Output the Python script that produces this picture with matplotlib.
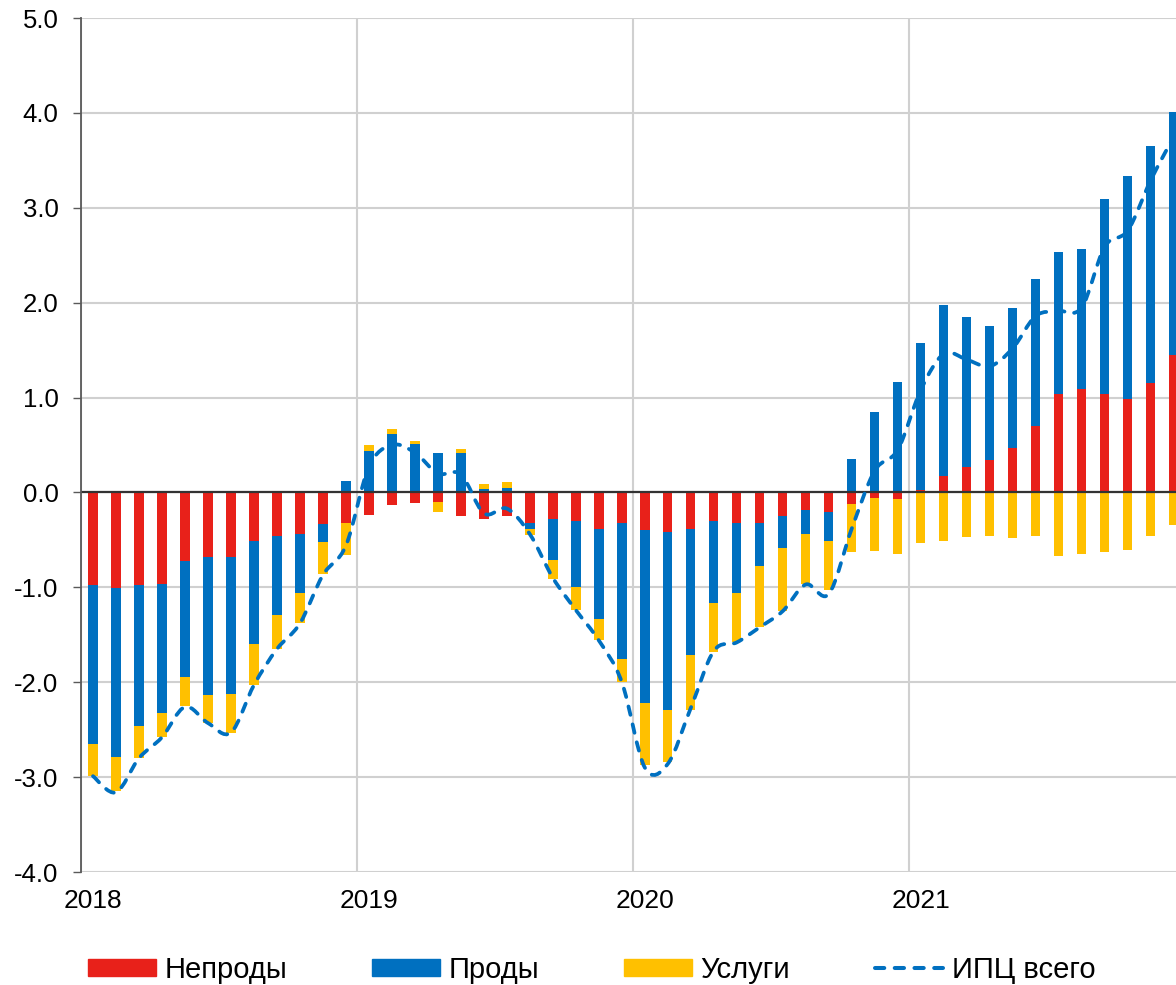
import numpy as np
import matplotlib
matplotlib.use("Agg")
import matplotlib.pyplot as plt
from matplotlib.path import Path
from matplotlib.patches import PathPatch, Patch
from matplotlib.lines import Line2D
from matplotlib.ticker import FixedLocator, FixedFormatter

plt.rcParams['font.family'] = ['Liberation Sans', 'DejaVu Sans']

# ---------------- data ----------------
year_labels = ["2018", "2019", "2020", "2021"]
series_names = ["Непроды", "Проды", "Услуги"]
line_name = "ИПЦ всего"

nonfood = [-0.98, -1.01, -0.975, -0.96, -0.72, -0.68, -0.68, -0.51, -0.46, -0.44, -0.33, -0.32,
           -0.235, -0.13, -0.11, -0.105, -0.25, -0.28, -0.25, -0.32, -0.28, -0.305, -0.38, -0.32,
           -0.40, -0.42, -0.39, -0.30, -0.32, -0.32, -0.25, -0.19, -0.21, -0.12, -0.056, -0.074,
           0.025, 0.17, 0.27, 0.34, 0.47, 0.695, 1.035, 1.085, 1.04, 0.98, 1.15, 1.45]
food = [-1.67, -1.78, -1.49, -1.36, -1.23, -1.45, -1.44, -1.09, -0.83, -0.62, -0.19, 0.12,
        0.44, 0.62, 0.51, 0.42, 0.42, 0.035, 0.05, -0.07, -0.43, -0.695, -0.95, -1.44,
        -1.82, -1.87, -1.32, -0.87, -0.74, -0.46, -0.34, -0.25, -0.30, 0.35, 0.845, 1.16,
        1.555, 1.81, 1.58, 1.415, 1.47, 1.555, 1.495, 1.485, 2.05, 2.35, 2.50, 2.56]
services = [-0.34, -0.36, -0.33, -0.26, -0.30, -0.30, -0.41, -0.43, -0.36, -0.32, -0.34, -0.34,
            0.06, 0.05, 0.03, -0.10, 0.04, 0.055, 0.06, -0.055, -0.20, -0.24, -0.23, -0.24,
            -0.65, -0.55, -0.58, -0.51, -0.52, -0.64, -0.66, -0.525, -0.52, -0.51, -0.564, -0.576,
            -0.53, -0.51, -0.47, -0.46, -0.48, -0.46, -0.67, -0.65, -0.625, -0.61, -0.46, -0.34]
cpi_total = [-2.99, -3.16, -2.80, -2.58, -2.26, -2.43, -2.53, -2.03, -1.65, -1.38, -0.87, -0.56,
             0.27, 0.50, 0.42, 0.20, 0.19, -0.22, -0.17, -0.44, -0.90, -1.24, -1.56, -2.00,
             -2.90, -2.86, -2.27, -1.67, -1.58, -1.42, -1.25, -0.97, -1.07, -0.38, 0.23, 0.45,
             1.08, 1.46, 1.40, 1.33, 1.52, 1.86, 1.91, 1.95, 2.59, 2.76, 3.29, 3.75]

colors = ["#E8211A", "#0070C0", "#FFC000"]

# ---------------- figure ----------------
W, H = 1176, 985
fig = plt.figure(figsize=(W / 100, H / 100), dpi=100)
ax = fig.add_axes([81.5 / W, 1 - 872 / H, 1 - 81.5 / W, (872 - 18) / H])

x = np.arange(len(nonfood))
pos_bottom = np.zeros(len(x))
neg_bottom = np.zeros(len(x))
for vals, col in zip([nonfood, food, services], colors):
    v = np.array(vals)
    bottom = np.where(v >= 0, pos_bottom, neg_bottom)
    ax.bar(x, v, width=0.405, bottom=bottom, color=col, zorder=2, linewidth=0)
    pos_bottom = pos_bottom + np.where(v >= 0, v, 0)
    neg_bottom = neg_bottom + np.where(v < 0, v, 0)

# smoothed line (Bezier through the data points)
pts = np.column_stack([x, np.array(cpi_total)])
n = len(pts)
verts = [tuple(pts[0])]
codes = [Path.MOVETO]
for i in range(n - 1):
    p0 = pts[max(i - 1, 0)]
    p1 = pts[i]
    p2 = pts[i + 1]
    p3 = pts[min(i + 2, n - 1)]
    c1 = p1 + (p2 - p0) / 6.0
    c2 = p2 - (p3 - p1) / 6.0
    verts += [tuple(c1), tuple(c2), tuple(p2)]
    codes += [Path.CURVE4] * 3
dash = (0, (2.3, 2.6))
patch = PathPatch(Path(verts, codes), fill=False, edgecolor="#0070C0", lw=2.7,
                  linestyle=dash, capstyle="round", zorder=4)
ax.add_patch(patch)

ax.axhline(0, color="#333333", lw=1.6, zorder=3)

ax.set_xlim(-0.5, 47.1)
ax.set_ylim(-4, 5)
ax.set_yticks(np.arange(-4, 5.01, 1.0))
ax.set_yticklabels([f"{v:.1f}" for v in np.arange(-4, 5.01, 1.0)])
ax.xaxis.set_major_locator(FixedLocator([0, 12, 24, 36]))
ax.xaxis.set_major_formatter(FixedFormatter(year_labels))
ax.xaxis.set_minor_locator(FixedLocator([-0.5, 11.5, 23.5, 35.5]))

ax.grid(axis="y", which="major", color="#D0D0D0", lw=1.5, zorder=0)
ax.grid(axis="x", which="minor", color="#D0D0D0", lw=1.5, zorder=0)
ax.grid(axis="x", which="major", visible=False)
ax.set_axisbelow(True)

for s in ["top", "right", "bottom"]:
    ax.spines[s].set_visible(False)
ax.spines["left"].set_color("#595959")
ax.spines["left"].set_linewidth(1.3)
ax.spines["left"].set_zorder(5)

ax.tick_params(axis="y", length=5.5, width=1.0, color="#595959", pad=11, labelsize=18.5,
               labelcolor="black")
ax.tick_params(axis="x", which="both", length=0, pad=12, labelsize=19, labelcolor="black")

handles = [Patch(color=c) for c in colors]
handles.append(Line2D([0], [0], color="#0070C0", lw=2.9, linestyle=dash,
                      dash_capstyle="round"))
fig.legend(handles, series_names + [line_name], loc="center",
           bbox_to_anchor=(0.503, 0.0155), ncol=4, frameon=False, fontsize=21,
           handlelength=2.33, handleheight=0.54, handletextpad=0.3, columnspacing=2.9)

fig.savefig("out.png", dpi=100)
